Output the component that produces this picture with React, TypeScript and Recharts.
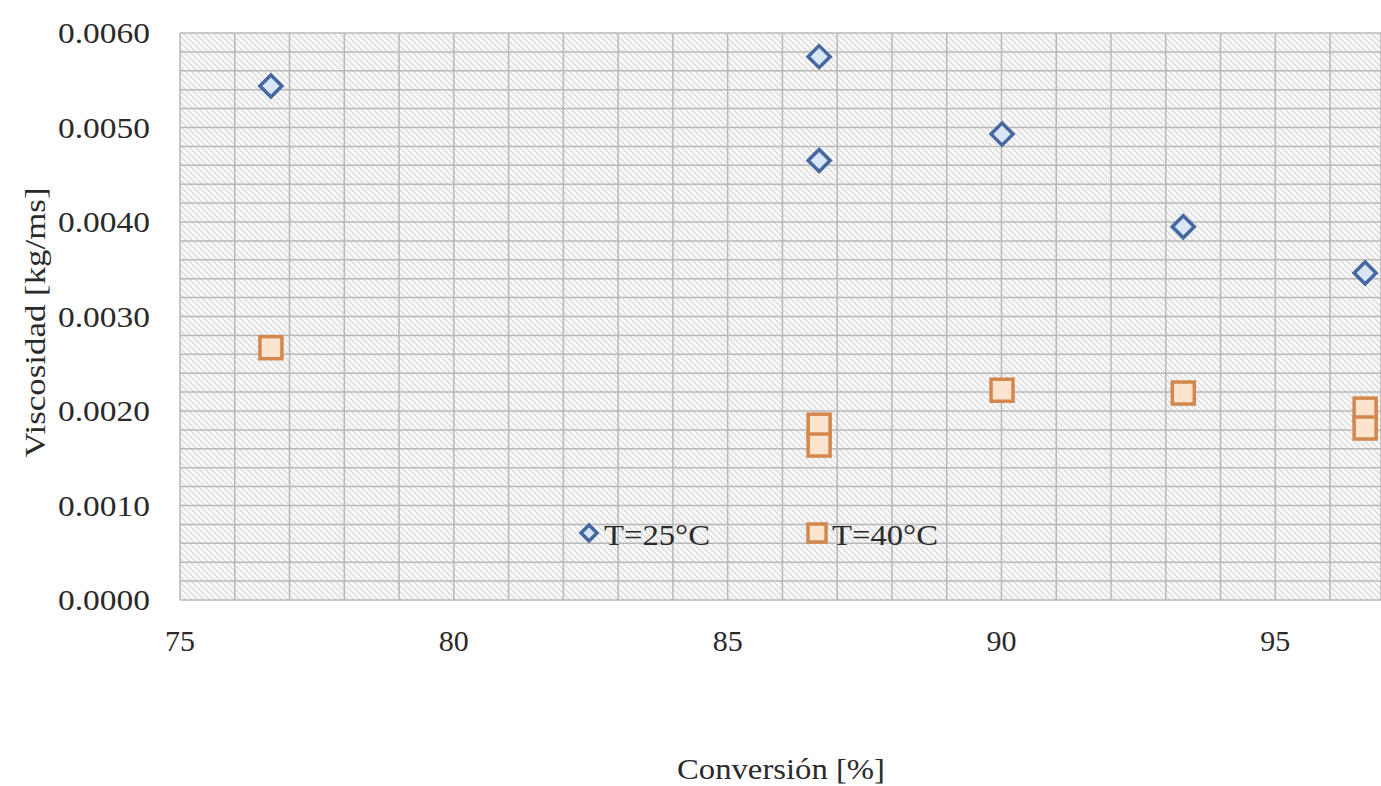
import React from 'react';
import { ScatterChart, Scatter, XAxis, YAxis, CartesianGrid, Legend } from 'recharts';

// ---- data ----
const conversion25 = [76.66, 86.67, 86.67, 90.01, 93.32, 96.64];
const viscosity25 = [0.00544, 0.00575, 0.00465, 0.00493, 0.00395, 0.00346];
const conversion40 = [76.66, 86.67, 86.67, 90.01, 93.32, 96.64, 96.64];
const viscosity40 = [0.00267, 0.00185, 0.00164, 0.00222, 0.00219, 0.00202, 0.00182];

const seriesNames = ['T=25°C', 'T=40°C'];
const xTicks = [75, 76, 77, 78, 79, 80, 81, 82, 83, 84, 85, 86, 87, 88, 89, 90, 91, 92, 93, 94, 95, 96];
const xLabelTicks = [75, 80, 85, 90, 95];
const yTicks = [
  0, 0.0002, 0.0004, 0.0006, 0.0008, 0.001, 0.0012, 0.0014, 0.0016, 0.0018,
  0.002, 0.0022, 0.0024, 0.0026, 0.0028, 0.003, 0.0032, 0.0034, 0.0036, 0.0038,
  0.004, 0.0042, 0.0044, 0.0046, 0.0048, 0.005, 0.0052, 0.0054, 0.0056, 0.0058, 0.006,
];
const yLabelTicks = [0, 0.001, 0.002, 0.003, 0.004, 0.005, 0.006];
const xDomain = [75, 96.93];
const yDomain = [0, 0.006];
const xTitle = 'Conversión [%]';
const yTitle = 'Viscosidad [kg/ms]';

const data25 = conversion25.map((x, i) => ({ x, y: viscosity25[i] }));
const data40 = conversion40.map((x, i) => ({ x, y: viscosity40[i] }));

const FONT = '"Liberation Serif", "Times New Roman", Times, serif';
const TEXT = '#2a2a2a';
const FS = 30;
const BLUE_STROKE = '#46679f';
const BLUE_FILL = '#d9e6f7';
const ORANGE_STROKE = '#d3874d';
const ORANGE_FILL = '#fde4cf';

const DiamondMark = ({ cx, cy, r = 11 }: any) => (
  <polygon
    points={`${cx},${cy - r} ${cx + r},${cy} ${cx},${cy + r} ${cx - r},${cy}`}
    fill={BLUE_FILL}
    stroke={BLUE_STROKE}
    strokeWidth={3.5}
  />
);

const SquareMark = ({ cx, cy, h = 11 }: any) => (
  <rect x={cx - h} y={cy - h} width={2 * h} height={2 * h} fill={ORANGE_FILL} stroke={ORANGE_STROKE} strokeWidth={3.5} />
);

const near = (v: number, list: number[]) => list.some((t) => Math.abs(t - v) < 1e-9);

const YTick = (props: any) => {
  const { x, y, payload } = props;
  if (!near(payload.value, yLabelTicks)) return <g />;
  return (
    <text
      x={x}
      y={y}
      dy={10}
      textAnchor="end"
      fontFamily={FONT}
      fontSize={FS}
      fill={TEXT}
      textLength={92}
      lengthAdjust="spacingAndGlyphs"
    >
      {payload.value.toFixed(4)}
    </text>
  );
};

const XTick = (props: any) => {
  const { x, y, payload } = props;
  if (!near(payload.value, xLabelTicks)) return <g />;
  return (
    <text x={x} y={y} dy={51} textAnchor="middle" fontFamily={FONT} fontSize={FS} fill={TEXT}>
      {String(payload.value)}
    </text>
  );
};

const XTitle = (props: any) => {
  const vb = props.viewBox || { x: 180, y: 600, width: 1201, height: 146 };
  return (
    <text
      x={781}
      y={vb.y + 168}
      dominantBaseline="central"
      textAnchor="middle"
      fontFamily={FONT}
      fontSize={FS}
      fill={TEXT}
      textLength={208}
      lengthAdjust="spacingAndGlyphs"
    >
      {xTitle}
    </text>
  );
};

const YTitle = (props: any) => {
  const vb = props.viewBox || { x: 0, y: 33, width: 180, height: 567 };
  const cx = vb.x + 34;
  const cy = vb.y + vb.height / 2 + 6;
  return (
    <text
      x={cx}
      y={cy}
      transform={`rotate(-90, ${cx}, ${cy})`}
      dominantBaseline="central"
      textAnchor="middle"
      fontFamily={FONT}
      fontSize={FS}
      fill={TEXT}
      textLength={270}
      lengthAdjust="spacingAndGlyphs"
    >
      {yTitle}
    </text>
  );
};

const LegendContent = (props: any) => {
  const payload = props.payload || [];
  const names = payload.length ? payload.map((p: any) => p.value) : seriesNames;
  return (
    <svg width={400} height={40} style={{ display: 'block' }}>
      {names.map((name: string, i: number) => {
        const mx = i === 0 ? 19 : 247;
        return (
          <g key={name}>
            {i === 0 ? <DiamondMark cx={mx} cy={20} r={8} /> : <SquareMark cx={mx} cy={20} h={9} />}
            <text
              x={mx + 15}
              y={21}
              dominantBaseline="central"
              fontFamily={FONT}
              fontSize={FS}
              fill={TEXT}
              textLength={106}
              lengthAdjust="spacingAndGlyphs"
            >
              {name}
            </text>
          </g>
        );
      })}
    </svg>
  );
};

export default function App() {
  return (
    <div style={{ position: 'absolute', left: 0, top: 0, width: 1381, height: 786, background: '#ffffff', overflow: 'hidden' }}>
      <svg width={0} height={0} style={{ position: 'absolute' }}>
        <defs>
          <pattern id="hatch" width={6} height={6} patternUnits="userSpaceOnUse">
            <rect width={6} height={6} fill="#f8f8f8" />
            <path d="M0,0 L6,6 M-1,5 L1,7 M5,-1 L7,1" stroke="#d6d6d6" strokeWidth={1.1} />
          </pattern>
        </defs>
      </svg>
      <ScatterChart width={1381} height={786} margin={{ top: 33, right: 0, bottom: 0, left: 0 }}>
        <CartesianGrid stroke="#b8b8b8" strokeWidth={1.5} fill="url(#hatch)" fillOpacity={1} />
        <XAxis
          dataKey="x"
          type="number"
          domain={xDomain}
          ticks={xTicks}
          interval={0}
          allowDataOverflow
          height={146}
          tickLine={false}
          axisLine={false}
          tickSize={0}
          tickMargin={0}
          tick={<XTick />}
          label={{ content: <XTitle /> }}
        />
        <YAxis
          dataKey="y"
          type="number"
          domain={yDomain}
          ticks={yTicks}
          interval={0}
          allowDataOverflow
          width={180}
          tickLine={false}
          axisLine={false}
          tickSize={0}
          tickMargin={30}
          tick={<YTick />}
          label={{ content: <YTitle /> }}
        />
        <Legend
          content={<LegendContent />}
          wrapperStyle={{ position: 'absolute', left: 570, top: 513, width: 400, height: 40 }}
        />
        <Scatter name={seriesNames[0]} data={data25} fill={BLUE_STROKE} shape={<DiamondMark />} isAnimationActive={false} />
        <Scatter name={seriesNames[1]} data={data40} fill={ORANGE_STROKE} shape={<SquareMark />} isAnimationActive={false} />
      </ScatterChart>
    </div>
  );
}
